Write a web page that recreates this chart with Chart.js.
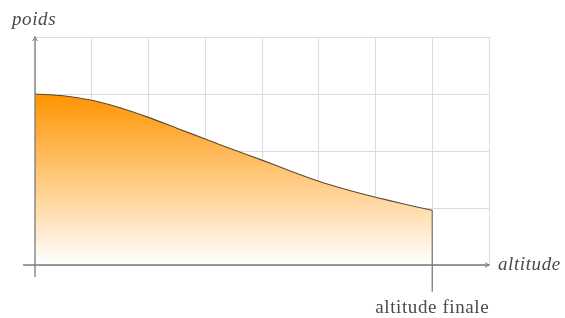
<!DOCTYPE html>
<html>
<head>
<meta charset="utf-8">
<script src="https://cdn.jsdelivr.net/npm/chart.js@4/dist/chart.umd.min.js"></script>
<style>
html,body{margin:0;padding:0;background:#fff;}
#wrap{width:565px;height:318px;}
</style>
</head>
<body>
<div id="wrap"><canvas id="c" width="565" height="318"></canvas></div>
<script>
const altitudes = [0, 0.5, 1, 1.5, 2, 2.5, 3, 3.5, 4, 4.5, 5, 5.5, 6, 6.5, 7];
const poids = [3.0, 2.97, 2.89, 2.76, 2.59, 2.40, 2.21, 2.02, 1.84, 1.65, 1.47, 1.32, 1.19, 1.07, 0.96];
const xLabel = 'altitude';
const yLabel = 'poids';
const finalLabel = 'altitude finale';
const altitudeFinale = 7;
const xRange = [0, 8];
const yRange = [0, 4];

const pts = altitudes.map((a, i) => ({x: a, y: poids[i]}));

const axesPlugin = {
  id: 'axes',
  afterDatasetsDraw(chart) {
    const ctx = chart.ctx;
    const xs = chart.scales.x, ys = chart.scales.y;
    const px = v => xs.getPixelForValue(v);
    const py = v => ys.getPixelForValue(v);
    ctx.save();
    ctx.strokeStyle = '#7a7a7a';
    ctx.lineWidth = 1.3;
    // vertical line at altitude finale
    ctx.beginPath();
    ctx.moveTo(px(altitudeFinale), py(poids[poids.length - 1]));
    ctx.lineTo(px(altitudeFinale), py(-0.47));
    ctx.stroke();
    // x axis
    ctx.beginPath();
    ctx.moveTo(px(-0.21), py(0));
    ctx.lineTo(px(xRange[1]), py(0));
    ctx.stroke();
    // y axis
    ctx.beginPath();
    ctx.moveTo(px(0), py(-0.21));
    ctx.lineTo(px(0), py(yRange[1]));
    ctx.stroke();
    // arrows
    const ax = px(xRange[1]), ay = py(0);
    ctx.lineWidth = 1;
    ctx.beginPath();
    ctx.moveTo(ax - 4, ay - 2.5);
    ctx.quadraticCurveTo(ax - 1.5, ay - 0.5, ax + 0.5, ay);
    ctx.quadraticCurveTo(ax - 1.5, ay + 0.5, ax - 4, ay + 2.5);
    ctx.stroke();
    const bx = px(0), by = py(yRange[1]);
    ctx.beginPath();
    ctx.moveTo(bx - 2.5, by + 4);
    ctx.quadraticCurveTo(bx - 0.5, by + 1.5, bx, by - 0.5);
    ctx.quadraticCurveTo(bx + 0.5, by + 1.5, bx + 2.5, by + 4);
    ctx.stroke();
    // labels
    ctx.fillStyle = '#4a4a4a';
    ctx.letterSpacing = '0.6px';
    ctx.font = 'italic 19px "Liberation Serif", "DejaVu Serif", serif';
    ctx.textBaseline = 'alphabetic';
    ctx.textAlign = 'left';
    ctx.fillText(xLabel, ax + 9, ay + 5);
    ctx.fillText(yLabel, 12, by - 12);
    ctx.font = '19px "Liberation Serif", "DejaVu Serif", serif';
    ctx.textAlign = 'center';
    ctx.fillText(finalLabel, px(altitudeFinale), py(-0.47) + 21);
    ctx.restore();
  }
};

new Chart(document.getElementById('c'), {
  type: 'line',
  data: {
    datasets: [{
      data: pts,
      borderColor: '#5c4a36',
      borderWidth: 1.1,
      pointRadius: 0,
      tension: 0.3,
      fill: 'origin',
      backgroundColor: (context) => {
        const chart = context.chart;
        const {ctx, chartArea, scales} = chart;
        if (!chartArea) return 'rgba(255,150,0,0.6)';
        const g = ctx.createLinearGradient(0, scales.y.getPixelForValue(3), 0, scales.y.getPixelForValue(0));
        g.addColorStop(0, 'rgb(255,148,0)');
        g.addColorStop(1, 'rgb(255,255,255)');
        return g;
      }
    }]
  },
  options: {
    responsive: false,
    animation: false,
    layout: {padding: {left: 35, right: 76, top: 37, bottom: 53}},
    plugins: {legend: {display: false}, tooltip: {enabled: false}},
    scales: {
      x: {
        type: 'linear', min: xRange[0], max: xRange[1],
        ticks: {display: false, stepSize: 1},
        grid: {color: '#dcdcdc', lineWidth: 1, drawTicks: false},
        border: {display: false}
      },
      y: {
        type: 'linear', min: yRange[0], max: yRange[1],
        ticks: {display: false, stepSize: 1},
        grid: {color: '#dcdcdc', lineWidth: 1, drawTicks: false},
        border: {display: false}
      }
    }
  },
  plugins: [axesPlugin]
});
</script>
</body>
</html>
